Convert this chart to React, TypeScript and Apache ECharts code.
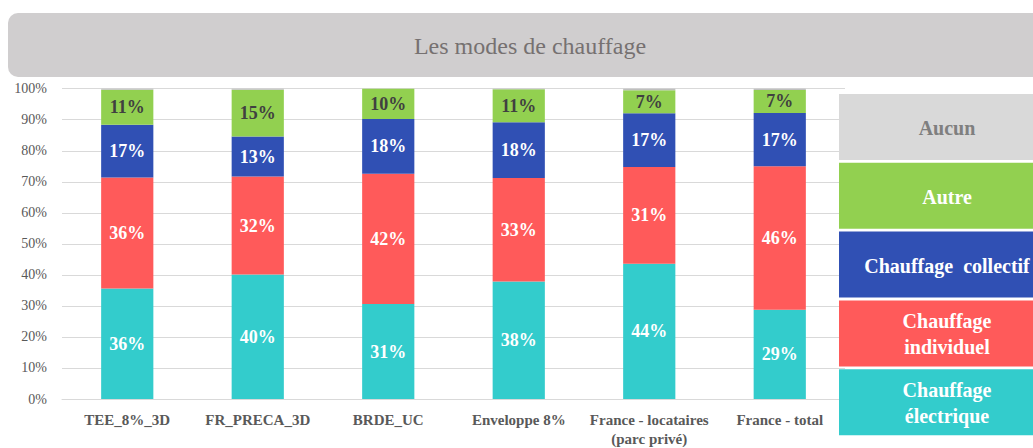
import React, { useEffect, useRef } from "react";
import * as echarts from "echarts";

const categories = [
  "TEE_8%_3D",
  "FR_PRECA_3D",
  "BRDE_UC",
  "Enveloppe 8%",
  "France - locataires\n(parc privé)",
  "France - total",
];
const electrique = [35.6, 40.1, 30.6, 37.9, 43.6, 28.8];
const individuel = [35.8, 31.6, 42.0, 33.3, 31.2, 46.2];
const collectif = [17.0, 12.9, 17.6, 18.0, 17.3, 17.2];
const autre = [11.3, 15.1, 9.8, 10.6, 7.4, 7.4];
const aucun = [0.3, 0.3, 0.0, 0.2, 0.5, 0.4];
const yTicks = [0, 10, 20, 30, 40, 50, 60, 70, 80, 90, 100];

const legendItems = [
  { name: "Aucun", color: "#d9d9d9", text: "#7f7f7f" },
  { name: "Autre", color: "#92d050", text: "#ffffff" },
  { name: "Chauffage  collectif", color: "#3050b4", text: "#ffffff" },
  { name: "Chauffage\nindividuel", color: "#ff5a5a", text: "#ffffff" },
  { name: "Chauffage\nélectrique", color: "#33cccc", text: "#ffffff" },
];

const FONT = "Liberation Serif";

export default function App() {
  const ref = useRef<HTMLDivElement>(null);
  useEffect(() => {
    if (!ref.current) return;
    const chart = echarts.init(ref.current, undefined, { renderer: "svg" });
    const labelFor = (color: string) => ({
      show: true,
      position: "inside" as const,
      fontFamily: FONT,
      fontWeight: "bold" as const,
      fontSize: 18,
      color,
      formatter: (p: any) => Math.round(p.value) + "%",
    });
    const mk = (name: string, data: number[], color: string, labelColor: string | null) => ({
      name,
      type: "bar" as const,
      stack: "total",
      data,
      barWidth: "40%",
      itemStyle: { color },
      label: labelColor ? labelFor(labelColor) : { show: false },
      emphasis: { disabled: true },
    });
    const legendGraphics: any[] = [];
    legendItems.forEach((it, i) => {
      const top = 94 + i * 68.8;
      legendGraphics.push({
        type: "rect",
        z: 100,
        shape: { x: 839, y: top, width: 216, height: 66 },
        style: { fill: it.color },
      });
      legendGraphics.push({
        type: "text",
        z: 101,
        x: 947,
        y: top + 34,
        style: {
          text: it.name,
          fill: it.text,
          fontFamily: FONT,
          fontWeight: "bold",
          fontSize: 20,
          align: "center",
          verticalAlign: "middle",
          lineHeight: 26,
        },
      });
    });
    chart.setOption({
      animation: false,
      grid: { left: 62, right: 188, top: 88.7, bottom: 44.7, containLabel: false },
      xAxis: {
        type: "category",
        data: categories,
        axisLine: { show: true, lineStyle: { color: "#d9d9d9", width: 1 } },
        axisTick: { show: false },
        axisLabel: {
          interval: 0,
          margin: 11,
          fontFamily: FONT,
          fontWeight: "bold",
          fontSize: 15,
          color: "#595959",
          lineHeight: 19,
        },
      },
      yAxis: {
        type: "value",
        min: yTicks[0],
        max: yTicks[yTicks.length - 1],
        interval: 10,
        axisLine: { show: false },
        axisTick: { show: false },
        splitLine: { lineStyle: { color: "#d9d9d9", width: 1 } },
        axisLabel: {
          margin: 15,
          fontFamily: FONT,
          fontSize: 14,
          color: "#595959",
          formatter: "{value}%",
        },
      },
      series: [
        mk("Chauffage électrique", electrique, "#33cccc", "#ffffff"),
        mk("Chauffage individuel", individuel, "#ff5a5a", "#ffffff"),
        mk("Chauffage collectif", collectif, "#3050b4", "#ffffff"),
        mk("Autre", autre, "#92d050", "#404040"),
        mk("Aucun", aucun, "#bfbfbf", null),
      ],
      graphic: [
        {
          type: "rect",
          z: 100,
          shape: { x: 8, y: 13, width: 1040, height: 64, r: 10 },
          style: { fill: "#d0cecf" },
        },
        {
          type: "text",
          z: 101,
          x: 530,
          y: 46,
          style: {
            text: "Les modes de chauffage",
            fill: "#767171",
            fontFamily: FONT,
            fontSize: 24,
            align: "center",
            verticalAlign: "middle",
          },
        },
        ...legendGraphics,
      ],
    });
    return () => chart.dispose();
  }, []);
  return (
    <div
      ref={ref}
      style={{ position: "fixed", left: 0, top: 0, width: 1033, height: 448, background: "#ffffff" }}
    />
  );
}
